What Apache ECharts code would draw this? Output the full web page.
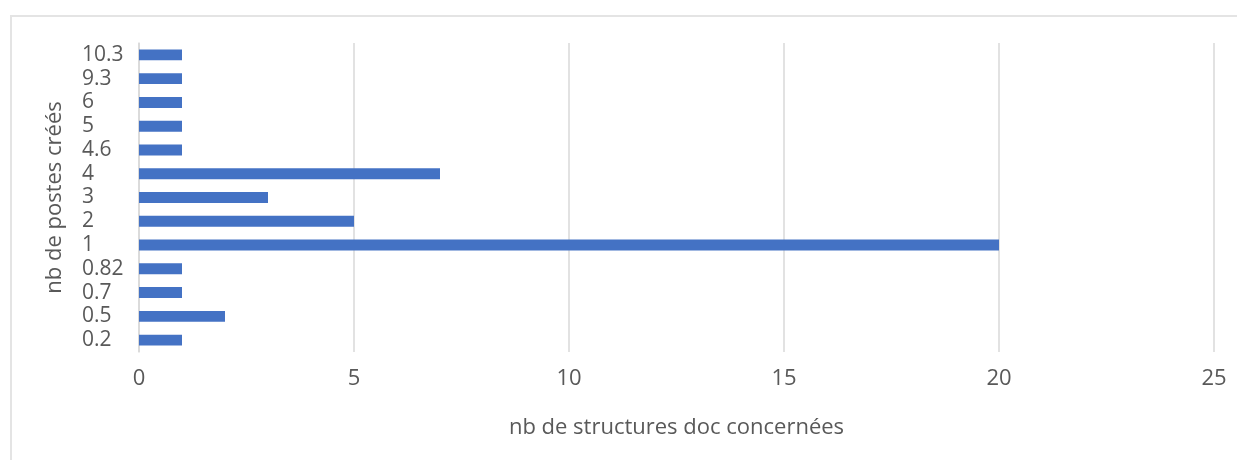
<!DOCTYPE html>
<html>
<head>
<meta charset="utf-8">
<script src="https://cdn.jsdelivr.net/npm/echarts@6/dist/echarts.min.js"></script>
<style>
  html, body { margin: 0; padding: 0; background: #fff; }
  #chart { width: 1237px; height: 460px; }
</style>
</head>
<body>
<div id="chart"></div>
<script>
// catégories de bas en haut
const postes = ['0.2', '0.5', '0.7', '0.82', '1', '2', '3', '4', '4.6', '5', '6', '9.3', '10.3'];
const structures = [1, 2, 1, 1, 20, 5, 3, 7, 1, 1, 1, 1, 1];
const xTicks = [0, 5, 10, 15, 20, 25];

const Chart = echarts.init(document.getElementById('chart'));

const option = {
  animation: false,
  textStyle: { fontFamily: 'Open Sans' },
  graphic: [{
    type: 'rect',
    shape: { x: 11, y: 16, width: 1260, height: 480 },
    style: { fill: 'none', stroke: '#e4e4e4', lineWidth: 2 },
    silent: true
  }],
  grid: { left: 139, right: 23, top: 43, bottom: 108 },
  xAxis: {
    type: 'value',
    min: xTicks[0],
    max: xTicks[xTicks.length - 1],
    interval: 5,
    name: 'nb de structures doc concernées',
    nameLocation: 'middle',
    nameGap: 76,
    nameTextStyle: { fontSize: 22, color: '#595959', verticalAlign: 'middle' },
    axisLine: { show: false },
    axisTick: { show: false },
    axisLabel: { fontSize: 22, color: '#595959', margin: 16 },
    splitLine: { lineStyle: { color: '#d9d9d9', width: 1.5 } }
  },
  yAxis: {
    type: 'category',
    data: postes,
    name: 'nb de postes créés',
    nameLocation: 'middle',
    nameGap: 84,
    nameRotate: 90,
    nameTextStyle: { fontSize: 22, color: '#595959', verticalAlign: 'middle' },
    axisLine: { show: true, lineStyle: { color: '#d9d9d9', width: 1.5 } },
    axisTick: { show: false },
    axisLabel: { fontSize: 21, color: '#595959', align: 'left', margin: 57, interval: 0, hideOverlap: false }
  },
  series: [{
    type: 'bar',
    data: structures,
    barCategoryGap: '54%',
    itemStyle: { color: '#4472C4' }
  }]
};

Chart.setOption(option);
</script>
</body>
</html>
